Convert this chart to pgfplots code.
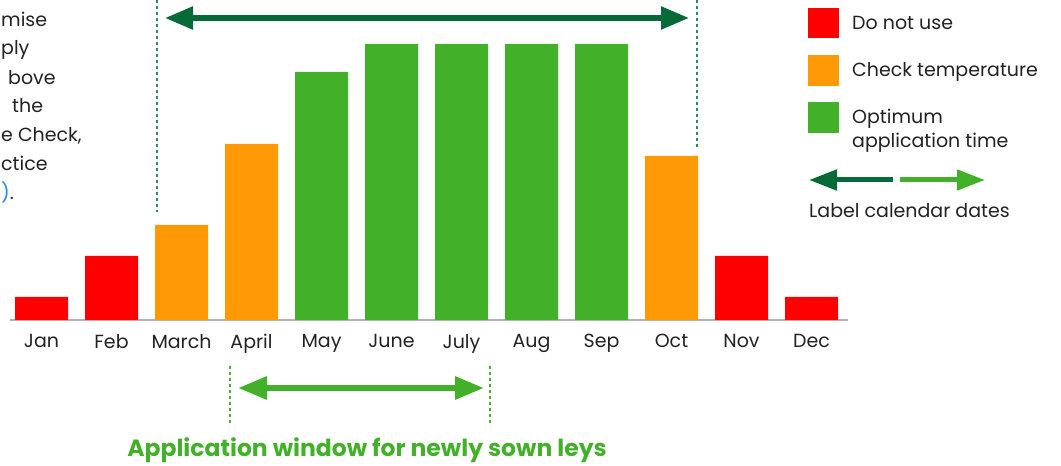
\documentclass[border=0pt]{standalone}
\usepackage{pgfplots}
\pgfplotsset{compat=1.18}
\usepackage{fontspec}
\setmainfont{Poppins}
\usetikzlibrary{arrows.meta}
\definecolor{cRed}{HTML}{FF0000}
\definecolor{cOrange}{HTML}{FF9905}
\definecolor{cGreen}{HTML}{43B02A}
\definecolor{cDark}{HTML}{056A37}
\definecolor{cDash}{HTML}{2E8A5E}
\definecolor{cText}{HTML}{222222}
\definecolor{cBlue}{HTML}{1E88E5}
\begin{document}
\begin{tikzpicture}
\useasboundingbox (0,0) rectangle (1061bp,466bp);
\begin{axis}[
  anchor=origin, at={(41.5bp,146bp)},
  x=70bp, y=1bp,
  xmin=-0.45, xmax=11.52, ymin=0, ymax=300,
  axis x line*=bottom, axis y line=none,
  x axis line style={draw=black!30, line width=1.5bp},
  xtick={0,...,11},
  xticklabels={Jan,Feb,March,April,May,June,July,Aug,Sep,Oct,Nov,Dec},
  major tick length=0pt,
  xticklabel style={font=\fontsize{19bp}{22bp}\selectfont, text=cText, yshift=-11bp},
  ybar, bar width=53bp, bar shift=0pt,
  clip=false,
]
\addplot[fill=cRed, draw=none] coordinates {(0,23) (1,64) (10,64) (11,23)};
\addplot[fill=cOrange, draw=none] coordinates {(2,95) (3,176) (9,164)};
\addplot[fill=cGreen, draw=none] coordinates {(4,248) (5,276) (6,276) (7,276) (8,276)};
\end{axis}
\begin{scope}[x=1bp, y=-1bp, shift={(0,466bp)}]
  % left cropped text (visible fragments)
  \begin{scope}[every node/.style={anchor=base west, inner sep=0pt, text=cText, font=\fontsize{19bp}{22bp}\selectfont}]
    \node at (1,27) {mise};
    \node at (1,55) {ply};
    \node at (8,85) {bove};
    \node at (12,113) {the};
    \node at (1,142) {e Check,};
    \node at (1,171) {ctice};
    \node at (1,200) {\textcolor{cBlue}{)}.};
  \end{scope}
  % top arrow and dashed lines
  \draw[cDash, line width=1.5bp, dash pattern=on 3bp off 3bp] (157,0) -- (157,212);
  \draw[cDash, line width=1.5bp, dash pattern=on 3bp off 3bp] (697,0) -- (697,148);
  \draw[cDark, line width=5.5bp, {Triangle[length=28bp,width=22bp]}-{Triangle[length=28bp,width=22bp]}] (165,18) -- (689,18);
  % bottom arrow
  \draw[cGreen, line width=1.5bp, dash pattern=on 3bp off 3bp] (230,366) -- (230,425);
  \draw[cGreen, line width=1.5bp, dash pattern=on 3bp off 3bp] (490,366) -- (490,425);
  \draw[cGreen, line width=6bp, {Triangle[length=29bp,width=22bp]}-{Triangle[length=29bp,width=22bp]}] (238,388) -- (484,388);
  \node[anchor=base, inner sep=0pt, text=cGreen, font=\fontsize{23.5bp}{26bp}\selectfont\bfseries] at (367,457) {Application window for newly sown leys};
  % legend
  \fill[cRed] (808,8) rectangle (839,38);
  \fill[cOrange] (808,55) rectangle (839,86);
  \fill[cGreen] (808,102) rectangle (839,133);
  \begin{scope}[every node/.style={anchor=base west, inner sep=0pt, text=cText, font=\fontsize{19bp}{22bp}\selectfont}]
    \node at (852,30) {Do not use};
    \node at (852,77) {Check temperature};
    \node at (852,124) {Optimum};
    \node at (852,148) {application time};
    \node at (809,218) {Label calendar dates};
  \end{scope}
  \draw[cDark, line width=5bp, {Triangle[length=28bp,width=20bp]}-] (809,180) -- (893,180);
  \draw[cGreen, line width=5bp, -{Triangle[length=28bp,width=20bp]}] (900,180) -- (985,180);
\end{scope}
\end{tikzpicture}
\end{document}
